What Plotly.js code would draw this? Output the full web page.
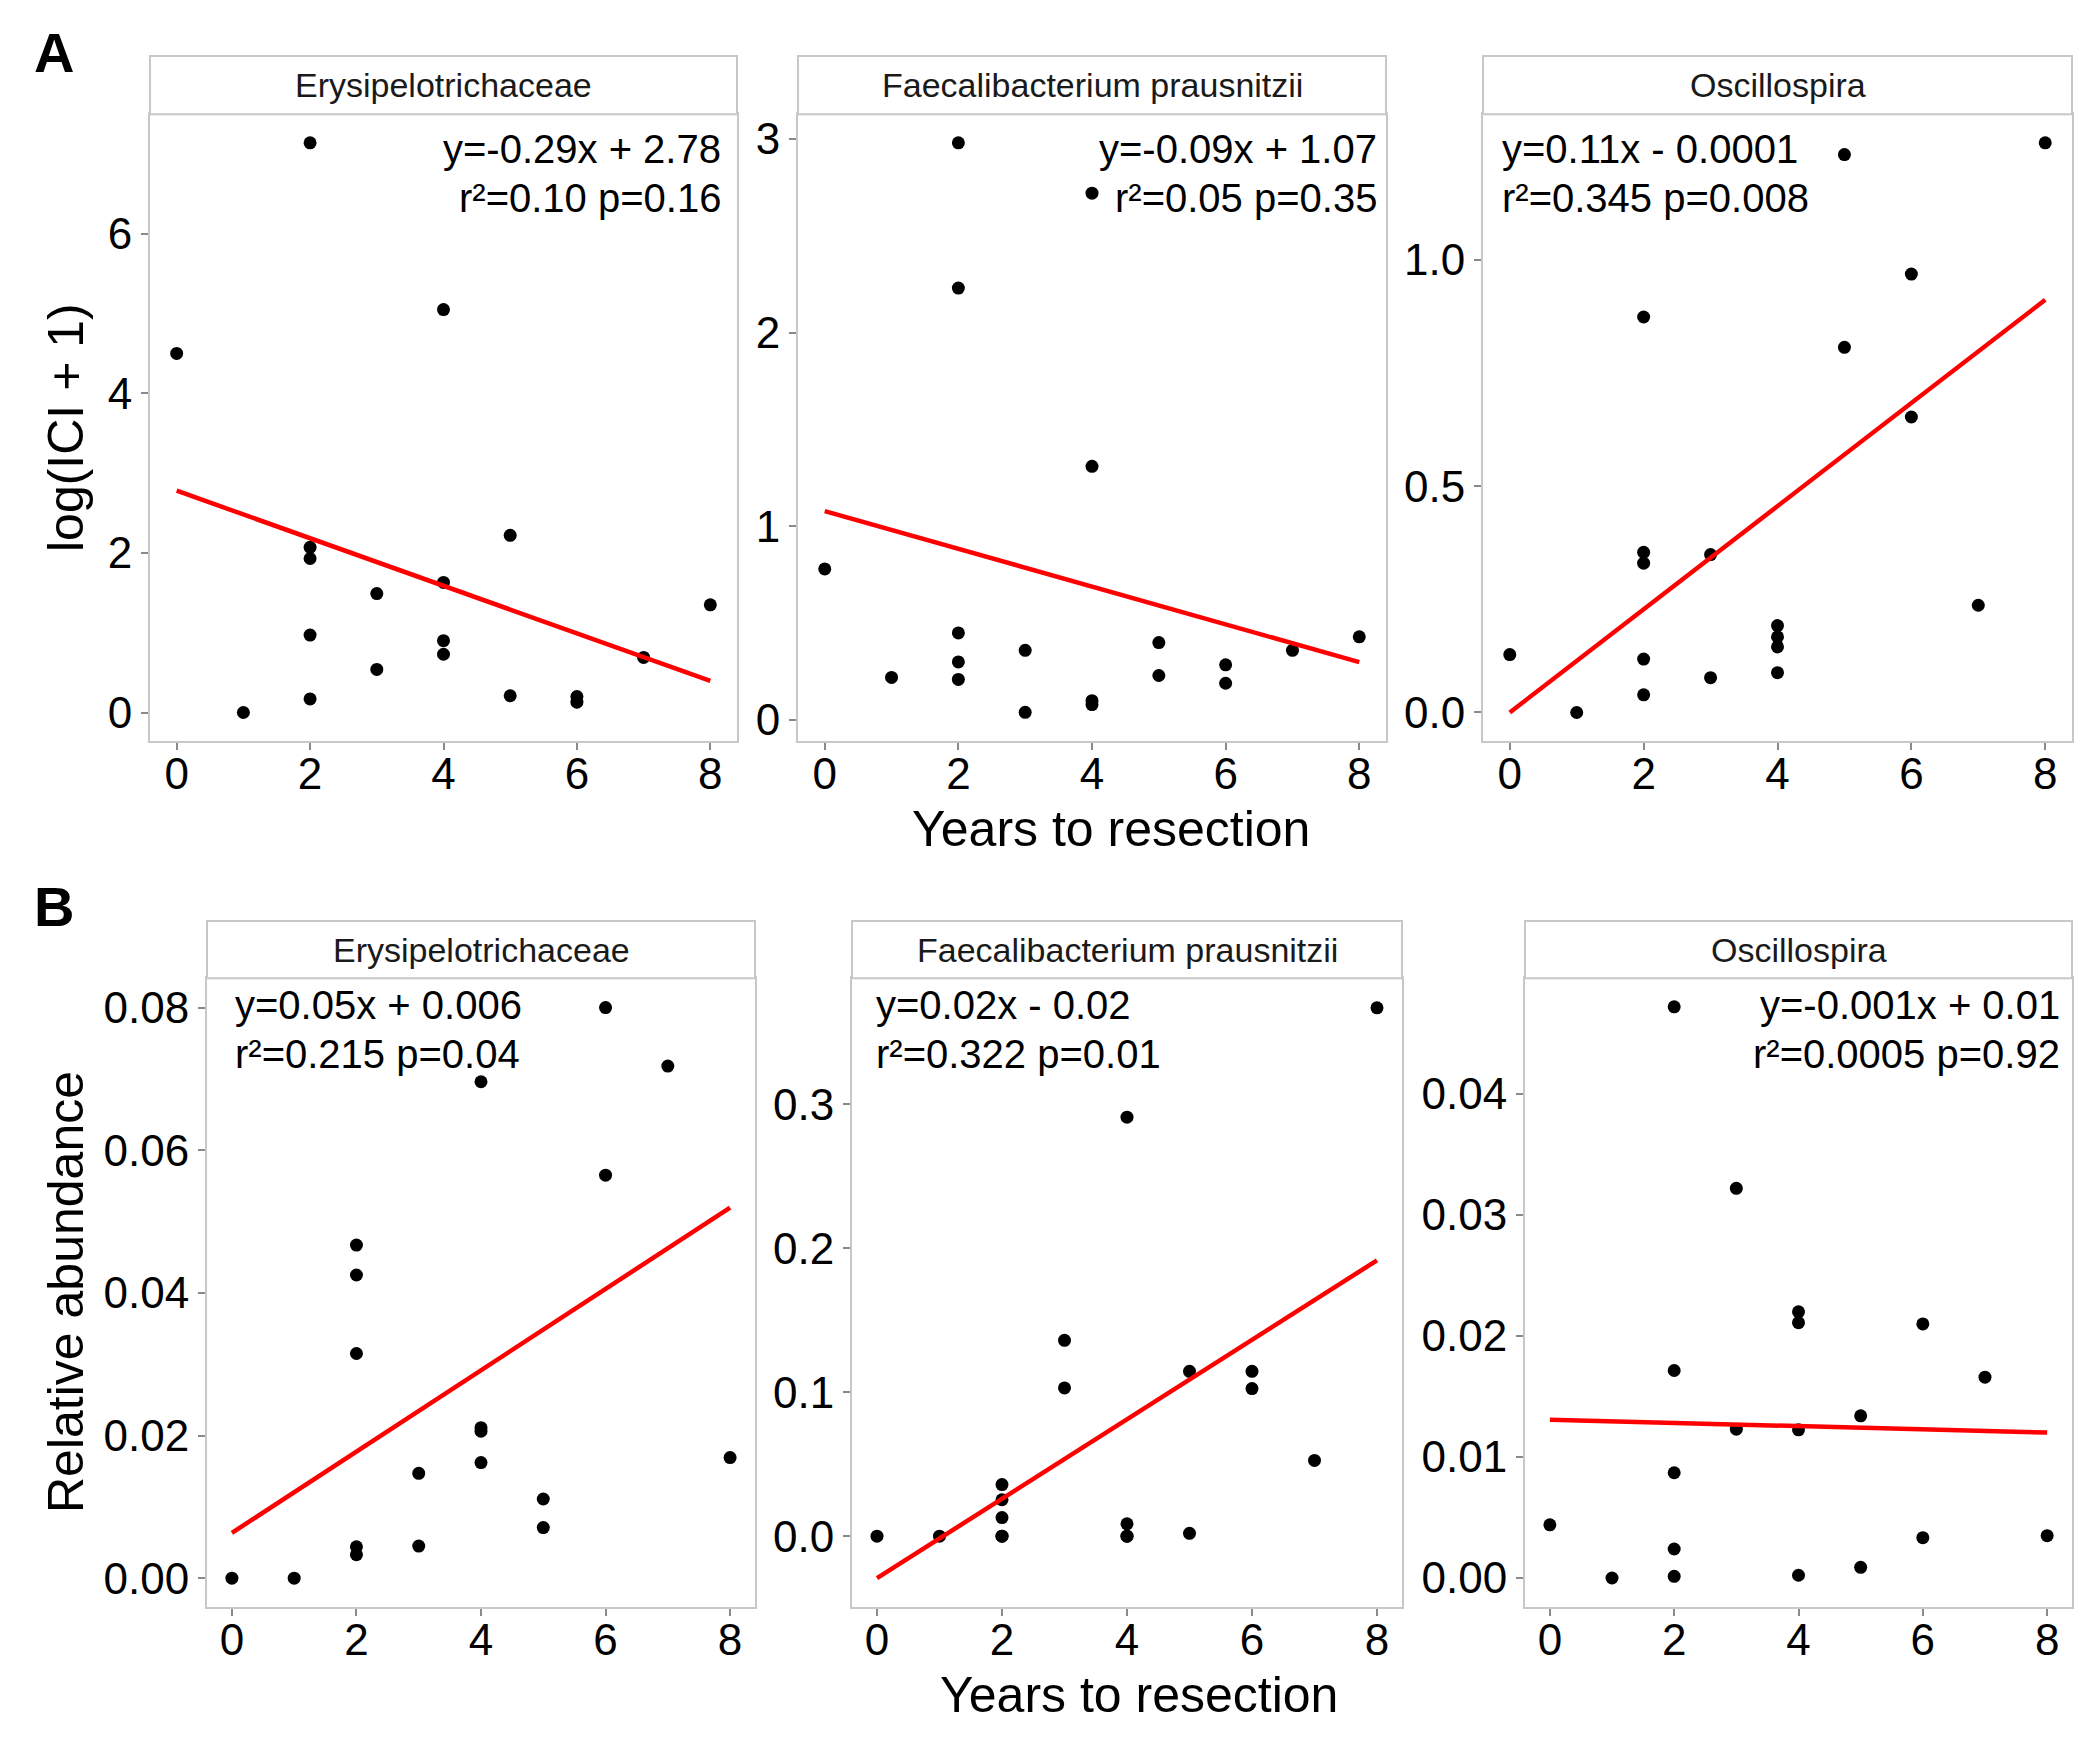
<!DOCTYPE html>
<html>
<head>
<meta charset="utf-8">
<script src="https://cdn.plot.ly/plotly-3.0.1.min.js"></script>
<style>html,body{margin:0;padding:0;background:#fff;}#chart{width:2100px;height:1738px;}</style>
</head>
<body>
<div id="chart"></div>
<script>
// ---------------- DATA ----------------
const panelTaxa = ["Erysipelotrichaceae", "Faecalibacterium prausnitzii", "Oscillospira"];
const years = [0, 1, 2, 2, 2, 2, 2, 3, 3, 4, 4, 4, 4, 5, 5, 6, 6, 7, 8];

// Panel A: log(ICI + 1)
const iciErysipelotrichaceae = [4.50, 0.00, 7.14, 2.07, 1.93, 0.97, 0.17, 1.49, 0.54, 5.05, 1.63, 0.90, 0.73, 2.22, 0.21, 0.20, 0.13, 0.69, 1.35];
const iciFaecalibacterium    = [0.78, 0.22, 2.98, 2.23, 0.45, 0.30, 0.21, 0.36, 0.04, 2.72, 1.31, 0.10, 0.08, 0.40, 0.23, 0.285, 0.19, 0.36, 0.43];
const iciOscillospira        = [0.128, 0.0, 0.874, 0.354, 0.330, 0.118, 0.039, 0.349, 0.077, 0.192, 0.167, 0.145, 0.088, 1.233, 0.807, 0.969, 0.653, 0.237, 1.259];

// Panel B: relative abundance
const abErysipelotrichaceae = [0.0, 0.0, 0.0467, 0.0425, 0.0315, 0.0044, 0.0033, 0.0147, 0.0045, 0.0696, 0.0211, 0.0206, 0.0162, 0.0111, 0.0071, 0.0800, 0.0565, 0.0718, 0.0169];
const abFaecalibacterium    = [0.0, 0.0, 0.0358, 0.0253, 0.0129, 0.0, 0.0, 0.136, 0.103, 0.291, 0.0086, 0.0, 0.0, 0.1145, 0.002, 0.1145, 0.1025, 0.0526, 0.367];
const abOscillospira        = [0.0044, 0.0, 0.0472, 0.01715, 0.0087, 0.0024, 0.00014, 0.0322, 0.0123, 0.0220, 0.0211, 0.01225, 0.00023, 0.0134, 0.00088, 0.0210, 0.00333, 0.0166, 0.0035];

// Fitted lines (intercept, slope)
const fitInterceptA = [2.78, 1.079, 0.0];
const fitSlopeA     = [-0.298, -0.0975, 0.114];
const fitInterceptB = [0.00635, -0.0292, 0.01308];
const fitSlopeB     = [0.00570, 0.0276, -0.000132];
const fitXRange = [0, 8];

// Equation labels
const eqLine1A = ["y=-0.29x + 2.78", "y=-0.09x + 1.07", "y=0.11x - 0.0001"];
const eqLine2A = ["r²=0.10 p=0.16", "r²=0.05 p=0.35", "r²=0.345 p=0.008"];
const eqLine1B = ["y=0.05x + 0.006", "y=0.02x - 0.02", "y=-0.001x + 0.01"];
const eqLine2B = ["r²=0.215 p=0.04", "r²=0.322 p=0.01", "r²=0.0005 p=0.92"];

// Tick labels
const xTickVals = [0, 2, 4, 6, 8];
const yTicksA = [[0, 2, 4, 6], [0, 1, 2, 3], [0, 0.5, 1.0]];
const yTickFmtA = ["d", "d", ".1f"];
const yTicksB = [[0, 0.02, 0.04, 0.06, 0.08], [0, 0.1, 0.2, 0.3], [0, 0.01, 0.02, 0.03, 0.04]];
const yTickFmtB = [".2f", ".1f", ".2f"];

const yLabelA = "log(ICI + 1)";
const yLabelB = "Relative abundance";
const xLabel = "Years to resection";

// ---------------- LAYOUT (pixels) ----------------
const W = 2100, H = 1738;
const FONT = "Liberation Sans, Arial, Helvetica, sans-serif";
const colsA = [[150, 737], [798, 1386], [1483, 2072]];
const colsB = [[207, 755], [852, 1402], [1525, 2072]];
const rowA = {stripTop: 56, top: 114.3, bottom: 741};
const rowB = {stripTop: 921, top: 978.3, bottom: 1606.7};
const yRangesA = [[-0.357, 7.497], [-0.108, 3.127], [-0.063, 1.322]];
const yRangesB = [[-0.0040, 0.0841], [-0.0490, 0.3875], [-0.00237, 0.04956]];

const px = v => v / W;
const py = v => 1 - v / H;

const dataA = [iciErysipelotrichaceae, iciFaecalibacterium, iciOscillospira];
const dataB = [abErysipelotrichaceae, abFaecalibacterium, abOscillospira];

const traces = [];
const layout = {
  width: W, height: H,
  margin: {l: 0, r: 0, t: 0, b: 0},
  paper_bgcolor: "#ffffff", plot_bgcolor: "#ffffff",
  showlegend: false,
  font: {family: FONT, color: "#000"},
  shapes: [], annotations: []
};

function axisCommon() {
  return {
    showline: true, mirror: true, linecolor: "#c8c8c8", linewidth: 2,
    showgrid: false, zeroline: false,
    ticks: "outside", ticklen: 7, tickwidth: 2, tickcolor: "#8a8a8a",
    tickfont: {family: FONT, size: 44, color: "#000"},
    fixedrange: true
  };
}

function d3fmt(v, f) {
  if (f === "d") return String(Math.round(v));
  if (f === ".1f") return v.toFixed(1);
  if (f === ".2f") return v.toFixed(2);
  return String(v);
}

let idx = 0;
function addPanel(col, row, yRange, yVals, fitA, fitB, yTicks, yFmt, stripText, eq1, eq2, eqSide, eqX, eqY1, eqY2) {
  idx++;
  const xa = idx === 1 ? "xaxis" : "xaxis" + idx;
  const ya = idx === 1 ? "yaxis" : "yaxis" + idx;
  const xr = idx === 1 ? "x" : "x" + idx;
  const yr = idx === 1 ? "y" : "y" + idx;
  layout[xa] = Object.assign(axisCommon(), {
    domain: [px(col[0]), px(col[1])], range: [-0.4, 8.4], anchor: yr,
    tickvals: xTickVals, ticktext: xTickVals.map(String), ticklabelstandoff: -14
  });
  layout[ya] = Object.assign(axisCommon(), {
    domain: [py(row.bottom), py(row.top)], range: yRange, anchor: xr,
    tickvals: yTicks, ticktext: yTicks.map(v => d3fmt(v, yFmt))
  });
  traces.push({
    type: "scatter", mode: "markers", x: years, y: yVals, xaxis: xr, yaxis: yr,
    marker: {color: "#000", size: 13}, hoverinfo: "x+y"
  });
  traces.push({
    type: "scatter", mode: "lines", x: fitXRange, y: fitXRange.map(x => fitA + fitB * x),
    xaxis: xr, yaxis: yr, line: {color: "#ff0000", width: 4.5}, hoverinfo: "skip"
  });
  layout.shapes.push({
    type: "rect", xref: "paper", yref: "paper",
    x0: px(col[0]), x1: px(col[1]), y0: py(row.top), y1: py(row.stripTop),
    line: {color: "#c8c8c8", width: 2}, fillcolor: "#ffffff", layer: "above"
  });
  layout.annotations.push({
    xref: "paper", yref: "paper", x: px((col[0] + col[1]) / 2), y: py((row.stripTop + row.top) / 2),
    text: stripText, showarrow: false, xanchor: "center", yanchor: "middle",
    font: {family: FONT, size: 34, color: "#1a1a1a"}
  });
  [[eq1, eqY1], [eq2, eqY2]].forEach(([t, yy]) => {
    layout.annotations.push({
      xref: "paper", yref: "paper", x: px(eqX), y: py(yy), text: t, showarrow: false,
      xanchor: eqSide, yanchor: "middle", font: {family: FONT, size: 40, color: "#000"}
    });
  });
}

const eqPosA = [["right", 723], ["right", 1379], ["left", 1500]];
const eqPosB = [["left", 233], ["left", 874], ["right", 2062]];
for (let i = 0; i < 3; i++) {
  addPanel(colsA[i], rowA, yRangesA[i], dataA[i], fitInterceptA[i], fitSlopeA[i], yTicksA[i], yTickFmtA[i],
    panelTaxa[i], eqLine1A[i], eqLine2A[i], eqPosA[i][0], eqPosA[i][1], 149, 198);
}
for (let i = 0; i < 3; i++) {
  addPanel(colsB[i], rowB, yRangesB[i], dataB[i], fitInterceptB[i], fitSlopeB[i], yTicksB[i], yTickFmtB[i],
    panelTaxa[i], eqLine1B[i], eqLine2B[i], eqPosB[i][0], eqPosB[i][1], 1005, 1054);
}

// Axis titles and panel letters
layout.annotations.push(
  {xref: "paper", yref: "paper", x: px(1111), y: py(829), text: xLabel, showarrow: false,
   xanchor: "center", yanchor: "middle", font: {family: FONT, size: 50, color: "#000"}},
  {xref: "paper", yref: "paper", x: px(1139), y: py(1695), text: xLabel, showarrow: false,
   xanchor: "center", yanchor: "middle", font: {family: FONT, size: 50, color: "#000"}},
  {xref: "paper", yref: "paper", x: px(66), y: py(428), text: yLabelA, showarrow: false, textangle: -90,
   xanchor: "center", yanchor: "middle", font: {family: FONT, size: 50, color: "#000"}},
  {xref: "paper", yref: "paper", x: px(66), y: py(1292), text: yLabelB, showarrow: false, textangle: -90,
   xanchor: "center", yanchor: "middle", font: {family: FONT, size: 50, color: "#000"}},
  {xref: "paper", yref: "paper", x: px(54), y: py(52), text: "<b>A</b>", showarrow: false,
   xanchor: "center", yanchor: "middle", font: {family: FONT, size: 56, color: "#000"}},
  {xref: "paper", yref: "paper", x: px(54), y: py(907), text: "<b>B</b>", showarrow: false,
   xanchor: "center", yanchor: "middle", font: {family: FONT, size: 56, color: "#000"}}
);

Plotly.newPlot("chart", traces, layout, {displayModeBar: false, staticPlot: true});
</script>
</body>
</html>
